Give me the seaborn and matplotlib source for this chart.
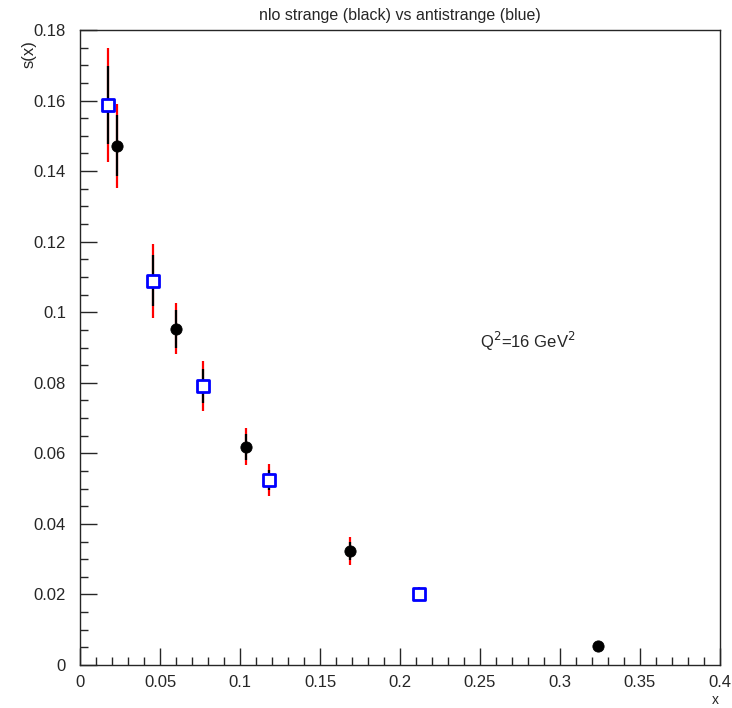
import seaborn as sns
import matplotlib.pyplot as plt
from matplotlib.ticker import MultipleLocator
import pandas as pd

# strange (black circles)
s_x = [0.0231, 0.0598, 0.1035, 0.169, 0.324]
s_y = [0.1472, 0.0953, 0.0619, 0.0324, 0.0053]
s_err_in = [0.0087, 0.0054, 0.0037, 0.0025, 0.0003]
s_err_out = [0.0119, 0.0072, 0.0052, 0.0040, 0.0005]

# antistrange (blue squares)
a_x = [0.0175, 0.0456, 0.0769, 0.118, 0.2119]
a_y = [0.1588, 0.1089, 0.0791, 0.0525, 0.0201]
a_err_in = [0.011, 0.0072, 0.0048, 0.0029, 0.0012]
a_err_out = [0.0162, 0.0104, 0.0071, 0.0045, 0.0019]

x_ticks = [0, 0.05, 0.1, 0.15, 0.2, 0.25, 0.3, 0.35, 0.4]
x_labels = ['0', '0.05', '0.1', '0.15', '0.2', '0.25', '0.3', '0.35', '0.4']
y_ticks = [0, 0.02, 0.04, 0.06, 0.08, 0.1, 0.12, 0.14, 0.16, 0.18]
y_labels = ['0', '0.02', '0.04', '0.06', '0.08', '0.1', '0.12', '0.14', '0.16', '0.18']

sns.set_style("ticks")
plt.rcParams['font.family'] = ['Liberation Sans', 'DejaVu Sans']

fig = plt.figure(figsize=(7.32, 7.08), dpi=100)
ax = fig.add_axes([0.1093, 0.0607, 0.8743, 0.8969])

df_s = pd.DataFrame({'x': s_x, 'y': s_y})
df_a = pd.DataFrame({'x': a_x, 'y': a_y})

# error bars: red outer, black inner
for xs, ys, e_out, e_in in [(s_x, s_y, s_err_out, s_err_in), (a_x, a_y, a_err_out, a_err_in)]:
    ax.errorbar(xs, ys, yerr=e_out, fmt='none', ecolor='red', elinewidth=1.6, capsize=0, zorder=2)
    ax.errorbar(xs, ys, yerr=e_in, fmt='none', ecolor='black', elinewidth=1.6, capsize=0, zorder=3)

sns.scatterplot(data=df_s, x='x', y='y', ax=ax, marker='o', color='black', s=65,
                edgecolor='black', zorder=4)
sns.scatterplot(data=df_a, x='x', y='y', ax=ax, marker='s', color='white', s=75,
                edgecolor='blue', linewidth=2, zorder=5)

ax.set_xlim(0, 0.4)
ax.set_ylim(0, 0.18)
ax.xaxis.set_minor_locator(MultipleLocator(0.01))
ax.yaxis.set_minor_locator(MultipleLocator(0.005))
ax.set_xticks(x_ticks)
ax.set_xticklabels(x_labels)
ax.set_yticks(y_ticks)
ax.set_yticklabels(y_labels)
ax.tick_params(which='both', direction='in', top=False, right=False, labelsize=12, width=1)
ax.tick_params(axis='x', which='major', length=12, pad=7)
ax.tick_params(axis='y', which='major', length=12, pad=10)
ax.tick_params(which='minor', length=6)
for sp in ax.spines.values():
    sp.set_linewidth(1)

ax.set_xlabel('')
ax.set_ylabel('')
fig.text(0.977, 0.002, 'x', ha='center', va='bottom', fontsize=10)
fig.text(0.04, 0.944, 's(x)', ha='center', va='top', rotation=90, fontsize=12)
fig.text(0.546, 0.978, 'nlo strange (black) vs antistrange (blue)', ha='center', va='center', fontsize=11.5)
ax.text(0.25, 0.0916, r'Q$^{2}$=16 GeV$^{2}$', ha='left', va='center', fontsize=12)

fig.savefig('out.png', dpi=100)
